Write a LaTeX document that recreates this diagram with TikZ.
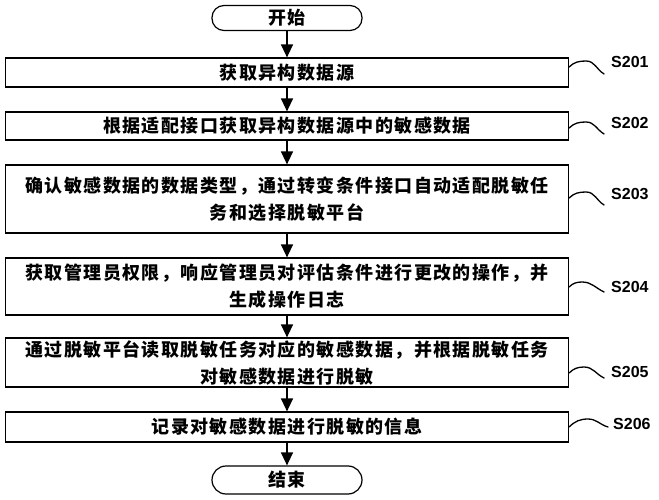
\documentclass[tikz,border=0pt]{standalone}
\usepackage{fontspec}
\setmainfont{Liberation Sans}
\newfontfamily\cjk{Noto Sans CJK SC}[LetterSpace=8]
\usetikzlibrary{arrows.meta,calc}
\begin{document}
\begin{tikzpicture}[x=1pt,y=-1pt,
  stepbox/.style={draw, line width=1.2pt, minimum width=563pt, inner sep=0pt,
    font=\cjk\bfseries\fontsize{18}{27}\selectfont, align=center},
  term/.style={draw, line width=1.2pt, rounded corners=12pt, minimum width=150pt,
    minimum height=25pt, inner sep=0pt, font=\cjk\bfseries\fontsize{18}{27}\selectfont},
  arr/.style={line width=1.3pt, -{Triangle[length=13pt,width=12pt]}},
  wave/.style={line width=1.3pt, line cap=round},
  lab/.style={font=\bfseries\fontsize{16}{18}\selectfont, anchor=west, inner sep=0pt}]
\useasboundingbox (0,0) rectangle (659,500);

\node[term] (st) at (287,18) {开始};
\node[stepbox, minimum height=29pt] (s1) at (287,72.5) {获取异构数据源};
\node[stepbox, minimum height=28pt] (s2) at (287,126) {根据适配接口获取异构数据源中的敏感数据};
\node[stepbox, minimum height=68pt] (s3) at (287,199) {确认敏感数据的数据类型，通过转变条件接口自动适配脱敏任\\务和选择脱敏平台};
\node[stepbox, minimum height=57pt] (s4) at (287,286.5) {获取管理员权限，响应管理员对评估条件进行更改的操作，并\\生成操作日志};
\node[stepbox, minimum height=49pt] (s5) at (287,362.5) {通过脱敏平台读取脱敏任务对应的敏感数据，并根据脱敏任务\\对敏感数据进行脱敏};
\node[stepbox, minimum height=30pt] (s6) at (287,427) {记录对敏感数据进行脱敏的信息};
\node[term, minimum height=28pt, rounded corners=14pt] (en) at (287,480) {结束};

\draw[arr] (st) -- (s1);
\draw[arr] (s1) -- (s2);
\draw[arr] (s2) -- (s3);
\draw[arr] (s3) -- (s4);
\draw[arr] (s4) -- (s5);
\draw[arr] (s5) -- (s6);
\draw[arr] (s6) -- (en);

\node[lab] (l1) at (611,62) {S201};
\node[lab] (l2) at (611,122.5) {S202};
\node[lab] (l3) at (611,194) {S203};
\node[lab] (l4) at (611,287) {S204};
\node[lab] (l5) at (611,372) {S205};
\node[lab] (l6) at (613,424) {S206};

\draw[wave] ($(s1.east)+(0,-5.5)$) to[out=45,in=180] ++(17,-6) to[out=0,in=150] ++(18,13);
\draw[wave] ($(s2.east)+(0,2)$) to[out=45,in=180] ++(17,-6) to[out=0,in=150] ++(18,12);
\draw[wave] ($(s3.east)+(0,-1)$) to[out=45,in=180] ++(17,-6) to[out=0,in=150] ++(18,13);
\draw[wave] ($(s4.east)+(0,0.5)$) to[out=45,in=180] ++(13,-5) to[out=0,in=155] ++(22,10);
\draw[wave] ($(s5.east)+(0,10.5)$) to[out=45,in=180] ++(15,-6) to[out=0,in=155] ++(20,11);
\draw[wave] ($(s6.east)+(0,0)$) to[out=45,in=180] ++(19,-8) to[out=0,in=165] ++(20,8);
\end{tikzpicture}
\end{document}
